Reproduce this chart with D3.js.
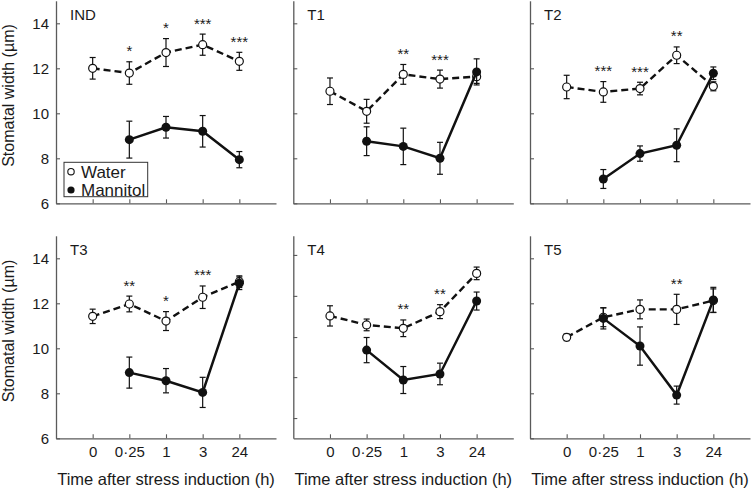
<!DOCTYPE html>
<html><head><meta charset="utf-8">
<script src="https://cdn.jsdelivr.net/npm/d3@7"></script>
<style>
body{margin:0;background:#fff}
svg{display:block}
text{font-family:"Liberation Sans",Arial,Helvetica,sans-serif;fill:#1a1a1a}
</style>
</head><body><svg id="c" width="751" height="496"></svg>
<script>
// ---- data ----
const times = ["0", "0·25", "1", "3", "24"];
const yTicks = [6, 8, 10, 12, 14];
const t4Ticks = [6.9, 8.72, 10.5, 12.33, 14.15];
const panelNames = ["IND", "T1", "T2", "T3", "T4", "T5"];
const seriesNames = ["Water", "Mannitol"];

const indWater = [12.0, 11.79, 12.7, 13.05, 12.31];
const indWaterErr = [0.48, 0.5, 0.62, 0.47, 0.4];
const indMannitol = [null, 8.83, 9.38, 9.2, 7.94];
const indMannitolErr = [null, 0.82, 0.48, 0.7, 0.36];
const indStars = ["", "*", "*", "***", "***"];

const t1Water = [10.98, 10.09, 11.73, 11.52, 11.63];
const t1WaterErr = [0.59, 0.53, 0.44, 0.4, 0.3];
const t1Mannitol = [null, 8.76, 8.53, 8.0, 11.84];
const t1MannitolErr = [null, 0.64, 0.81, 0.71, 0.58];
const t1Stars = ["", "", "**", "***", ""];

const t2Water = [11.17, 10.95, 11.1, 12.58, 11.2];
const t2WaterErr = [0.52, 0.46, 0.28, 0.37, 0.2];
const t2Mannitol = [null, 7.08, 8.21, 8.58, 11.78];
const t2MannitolErr = [null, 0.42, 0.34, 0.73, 0.28];
const t2Stars = ["", "***", "***", "**", ""];

const t3Water = [11.42, 11.97, 11.21, 12.27, 12.96];
const t3WaterErr = [0.32, 0.35, 0.42, 0.5, 0.26];
const t3Mannitol = [null, 8.92, 8.56, 8.04, 12.89];
const t3MannitolErr = [null, 0.69, 0.54, 0.67, 0.28];
const t3Stars = ["", "**", "*", "***", ""];

const t4Water = [11.44, 11.04, 10.89, 11.63, 13.33];
const t4WaterErr = [0.45, 0.26, 0.37, 0.31, 0.28];
const t4Mannitol = [null, 9.92, 8.59, 8.86, 12.1];
const t4MannitolErr = [null, 0.56, 0.6, 0.48, 0.4];
const t4Stars = ["", "", "**", "**", ""];

const t5Water = [10.49, 11.38, 11.73, 11.73, 12.12];
const t5WaterErr = [0.15, 0.42, 0.42, 0.67, 0.52];
const t5Mannitol = [null, 11.33, 10.1, 7.92, 12.15];
const t5MannitolErr = [null, 0.47, 0.85, 0.4, 0.56];
const t5Stars = ["", "", "", "**", ""];

// ---- layout ----
const colLeft = [56, 293.3, 530];
const panelW = 220;
const rowBottom = [203.3, 438.3];
const unitPx = 22.5;
const ink = "#111";
const axisCol = "#5a5a5a";

const panels = [
  {name: panelNames[0], w: indWater, we: indWaterErr, m: indMannitol, me: indMannitolErr, s: indStars, ticks: yTicks},
  {name: panelNames[1], w: t1Water, we: t1WaterErr, m: t1Mannitol, me: t1MannitolErr, s: t1Stars, ticks: yTicks},
  {name: panelNames[2], w: t2Water, we: t2WaterErr, m: t2Mannitol, me: t2MannitolErr, s: t2Stars, ticks: yTicks},
  {name: panelNames[3], w: t3Water, we: t3WaterErr, m: t3Mannitol, me: t3MannitolErr, s: t3Stars, ticks: yTicks},
  {name: panelNames[4], w: t4Water, we: t4WaterErr, m: t4Mannitol, me: t4MannitolErr, s: t4Stars, ticks: t4Ticks},
  {name: panelNames[5], w: t5Water, we: t5WaterErr, m: t5Mannitol, me: t5MannitolErr, s: t5Stars, ticks: yTicks}
];

const svg = d3.select("#c");

panels.forEach((p, i) => {
  const row = Math.floor(i / 3), col = i % 3;
  const left = colLeft[col], bottom = rowBottom[row];
  const x = d3.scaleLinear().domain([-1, 5]).range([left, left + panelW]);
  const y = d3.scaleLinear().domain([6, 15]).range([bottom, bottom - 9 * unitPx]);
  const g = svg.append("g");

  // x axis
  const xa = d3.axisBottom(x).tickValues(d3.range(times.length))
    .tickSize(-4).tickSizeOuter(0).tickPadding(8)
    .tickFormat(d => row === 1 ? times[d] : "");
  const gx = g.append("g").attr("transform", `translate(0,${bottom})`).call(xa);
  // y axis
  const ya = d3.axisLeft(y).tickValues(p.ticks)
    .tickSize(-4).tickSizeOuter(0).tickPadding(7)
    .tickFormat(d => col === 0 ? d3.format("d")(d) : "");
  const gy = g.append("g").attr("transform", `translate(${left},0)`).call(ya);
  [gx, gy].forEach(a => {
    a.select(".domain").attr("stroke", axisCol).attr("stroke-width", 1.3);
    a.selectAll(".tick line").attr("stroke", axisCol).attr("stroke-width", 1.1);
    a.selectAll(".tick text").attr("font-size", 15).attr("fill", "#1a1a1a")
      .attr("font-family", '"Liberation Sans",Arial,sans-serif');
  });

  // panel label
  g.append("text").attr("x", left + 14).attr("y", row === 0 ? 20 : 255)
    .attr("font-size", 15).text(p.name);

  const water = p.w.map((v, k) => ({k, v, e: p.we[k]}));
  const mann = p.m.map((v, k) => ({k, v, e: p.me[k]})).filter(d => d.v != null);

  const line = d3.line().x(d => x(d.k)).y(d => y(d.v));

  function errBars(data) {
    const eb = g.append("g").attr("stroke", ink).attr("stroke-width", 1.2);
    data.forEach(d => {
      eb.append("line").attr("x1", x(d.k)).attr("x2", x(d.k))
        .attr("y1", y(d.v - d.e)).attr("y2", y(d.v + d.e));
      [d.v - d.e, d.v + d.e].forEach(c => {
        eb.append("line").attr("x1", x(d.k) - 3).attr("x2", x(d.k) + 3)
          .attr("y1", y(c)).attr("y2", y(c));
      });
    });
  }

  // water series
  errBars(water);
  g.append("path").datum(water).attr("d", line).attr("fill", "none")
    .attr("stroke", ink).attr("stroke-width", 2.4).attr("stroke-dasharray", "7,4");
  g.selectAll(null).data(water).enter().append("circle")
    .attr("cx", d => x(d.k)).attr("cy", d => y(d.v)).attr("r", 4)
    .attr("fill", "#fff").attr("stroke", ink).attr("stroke-width", 1.2);

  // mannitol series
  errBars(mann);
  g.append("path").datum(mann).attr("d", line).attr("fill", "none")
    .attr("stroke", ink).attr("stroke-width", 2.5);
  g.selectAll(null).data(mann).enter().append("circle")
    .attr("cx", d => x(d.k)).attr("cy", d => y(d.v)).attr("r", 4.5)
    .attr("fill", ink);

  // significance stars
  p.s.forEach((s, k) => {
    if (!s) return;
    let top = y(p.w[k] + p.we[k]);
    if (p.m[k] != null) top = Math.min(top, y(p.m[k] + p.me[k]));
    g.append("text").attr("x", x(k)).attr("y", top - 5.5)
      .attr("text-anchor", "middle").attr("font-size", 15).text(s);
  });

  // axis titles
  if (col === 0) {
    const cy = row === 0 ? 95.5 : 331;
    svg.append("text").attr("transform", `translate(13.5,${cy}) rotate(-90)`)
      .attr("text-anchor", "middle").attr("font-size", 16).text("Stomatal width (µm)");
  }
  if (row === 1) {
    svg.append("text").attr("x", x(2)).attr("y", 484.5)
      .attr("text-anchor", "middle").attr("font-size", 16.5).text("Time after stress induction (h)");
  }
});

// legend
const lg = svg.append("g");
lg.append("rect").attr("x", 64).attr("y", 162.3).attr("width", 83.7).attr("height", 34.4)
  .attr("fill", "#fff").attr("stroke", "#333").attr("stroke-width", 1);
lg.append("circle").attr("cx", 71).attr("cy", 171.7).attr("r", 3.2)
  .attr("fill", "#fff").attr("stroke", ink).attr("stroke-width", 1.1);
lg.append("circle").attr("cx", 71).attr("cy", 190).attr("r", 3.6).attr("fill", ink);
lg.append("text").attr("x", 81).attr("y", 177.7).attr("font-size", 17).text(seriesNames[0]);
lg.append("text").attr("x", 81).attr("y", 196).attr("font-size", 17).text(seriesNames[1]);
</script>
</body></html>
